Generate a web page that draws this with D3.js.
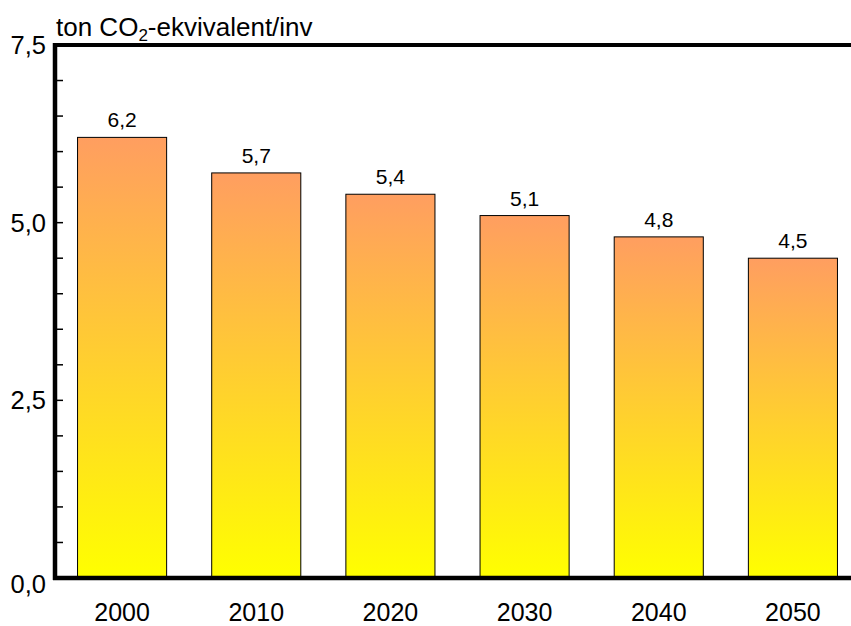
<!DOCTYPE html>
<html>
<head>
<meta charset="utf-8">
<script src="https://cdn.jsdelivr.net/npm/d3@7"></script>
<style>
html,body{margin:0;padding:0;background:#fff;}
svg{display:block;font-family:Arial,"Liberation Sans",sans-serif;}
</style>
</head>
<body>
<svg id="chart" width="851" height="626"></svg>
<script>
const years = ["2000","2010","2020","2030","2040","2050"];
const values = [6.2, 5.7, 5.4, 5.1, 4.8, 4.5];
const valueLabels = ["6,2","5,7","5,4","5,1","4,8","4,5"];
const yTicks = [0, 2.5, 5.0, 7.5];
const yTickLabels = ["0,0","2,5","5,0","7,5"];
const minorTicks = [0.5,1,1.5,2,2.5,3,3.5,4,4.5,5,5.5,6,6.5,7];

const svg = d3.select("#chart");
const x0 = 55, yBottom = 578, yTop = 45;

const x = d3.scaleBand().domain(years).range([x0, 860]).paddingInner(0.336).paddingOuter(0.168);
const y = d3.scaleLinear().domain([0, 7.5]).range([yBottom, yTop]);

const defs = svg.append("defs");
const grad = defs.append("linearGradient").attr("id","barGrad")
  .attr("x1",0).attr("y1",0).attr("x2",0).attr("y2",1);
grad.append("stop").attr("offset","0%").attr("stop-color","#FF9E60");
grad.append("stop").attr("offset","100%").attr("stop-color","#FFFF00");

// bars
svg.append("g").selectAll("rect").data(values).join("rect")
  .attr("x",(d,i)=>x(years[i]))
  .attr("y",d=>y(d))
  .attr("width",x.bandwidth())
  .attr("height",d=>yBottom-y(d))
  .attr("fill","url(#barGrad)")
  .attr("stroke","#000").attr("stroke-width",1);

// value labels
svg.append("g").selectAll("text").data(values).join("text")
  .attr("x",(d,i)=>x(years[i])+x.bandwidth()/2)
  .attr("y",d=>y(d)-10)
  .attr("text-anchor","middle")
  .attr("font-size",21)
  .text((d,i)=>valueLabels[i]);

// minor ticks
svg.append("g").selectAll("line").data(minorTicks).join("line")
  .attr("x1",x0).attr("x2",x0+8)
  .attr("y1",d=>y(d)).attr("y2",d=>y(d))
  .attr("stroke","#000").attr("stroke-width",1.5);

// axes lines
svg.append("line").attr("x1",x0).attr("x2",x0).attr("y1",yTop-2).attr("y2",yBottom+2)
  .attr("stroke","#000").attr("stroke-width",4.5);
svg.append("line").attr("x1",x0-2).attr("x2",851).attr("y1",yTop).attr("y2",yTop)
  .attr("stroke","#000").attr("stroke-width",4);
svg.append("line").attr("x1",x0-2).attr("x2",851).attr("y1",yBottom).attr("y2",yBottom)
  .attr("stroke","#000").attr("stroke-width",4.5);

// y tick labels
svg.append("g").selectAll("text").data(yTicks).join("text")
  .attr("x",46)
  .attr("y",d=>y(d))
  .attr("dy",d=>d===0?"0.6em":"0.35em")
  .attr("text-anchor","end")
  .attr("font-size",25.5)
  .text((d,i)=>yTickLabels[i]);

// x tick labels
svg.append("g").selectAll("text").data(years).join("text")
  .attr("x",d=>x(d)+x.bandwidth()/2)
  .attr("y",621)
  .attr("text-anchor","middle")
  .attr("font-size",25)
  .text(d=>d);

// title
const t = svg.append("text").attr("x",56).attr("y",36).attr("font-size",26);
t.append("tspan").text("ton CO");
t.append("tspan").attr("font-size",17).attr("dy",5).text("2");
t.append("tspan").attr("dy",-5).text("-ekvivalent/inv");
</script>
</body>
</html>
